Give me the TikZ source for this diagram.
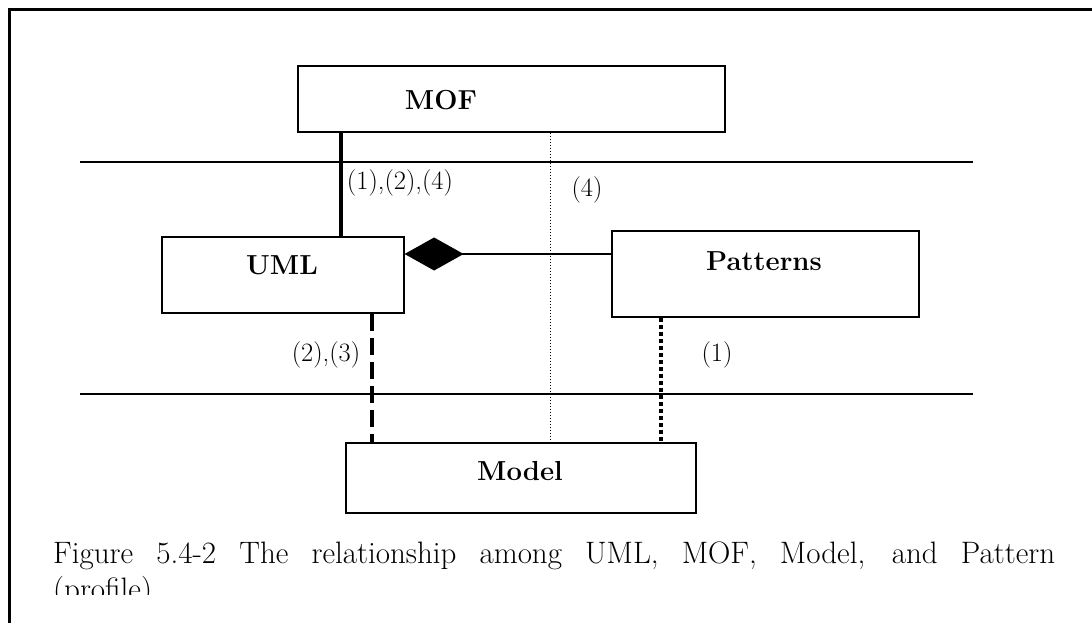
\documentclass[tikz,border=0pt]{standalone}
\usepackage{fontspec}
\usepackage{tikz}
\usetikzlibrary{arrows.meta}

\begin{document}
\begin{tikzpicture}[x=1pt,y=-1pt]
\tikzset{layerbox/.style={draw,line width=1.2pt,rectangle,inner sep=0pt},
  boxlabel/.style={inner sep=0pt,font=\fontsize{27.5}{32}\selectfont\bfseries},
  numlabel/.style={inner sep=0pt,font=\fontsize{26.5}{30}\selectfont}}
\useasboundingbox (0,0) rectangle (1092,623);
\draw [line width=3pt] (9.5,630) -- (9.5,9.5) -- (1100,9.5);
\draw [line width=1.3pt] (80,162) -- (973,162);
\draw [line width=1.3pt] (80,394) -- (973,394);
\node [layerbox,minimum width=427pt,minimum height=66pt] (mof) at (511.5,99) {};
\node [layerbox,minimum width=242pt,minimum height=76pt] (uml) at (283,275) {};
\node [layerbox,minimum width=307pt,minimum height=86pt] (pat) at (765.5,274) {};
\node [layerbox,minimum width=350pt,minimum height=70pt] (model) at (521,478) {};
\node [boxlabel] (moflabel) at (441,100) {MOF};
\node [boxlabel] (umllabel) at (282,265) {UML};
\node [boxlabel] (patlabel) at (764,261) {Patterns};
\node [boxlabel] (modellabel) at (520,471) {Model};
\coordinate (xmofuml) at (341,0);
\coordinate (xmofmodel) at (550,0);
\coordinate (xumlmodel) at (372,0);
\coordinate (xpatmodel) at (661,0);
\coordinate (ycomp) at (0,254);
\draw [line width=4pt] (mof.south -| xmofuml) -- (uml.north -| xmofuml);
\draw [line width=1pt,dash pattern=on 1pt off 2pt] (mof.south -| xmofmodel) -- (model.north -| xmofmodel);
\draw [line width=4pt,dash pattern=on 17pt off 7pt] (uml.south -| xumlmodel) -- (model.north -| xumlmodel);
\draw [line width=4pt,dash pattern=on 4pt off 3pt] (pat.south -| xpatmodel) -- (model.north -| xpatmodel);
\draw [line width=1.3pt,{Diamond[length=59pt,width=33pt]}-] (uml.east |- ycomp) -- (pat.west |- ycomp);
\node [numlabel] (lab124) at (400,183) {(1),(2),(4)};
\node [numlabel] (lab4) at (587,190) {(4)};
\node [numlabel] (lab23) at (326,355) {(2),(3)};
\node [numlabel] (lab1) at (717,355) {(1)};
\begin{scope}
\clip (0,0) rectangle (1092,594);
\node [anchor=north west,inner sep=0pt,text width=1002pt,align=justify,
  font=\fontsize{31}{36}\selectfont] (caption) at (53,542)
  {Figure 5.4-2 The relationship among UML, MOF, Model, and Pattern\linebreak (profile)};
\end{scope}
\end{tikzpicture}
\end{document}
